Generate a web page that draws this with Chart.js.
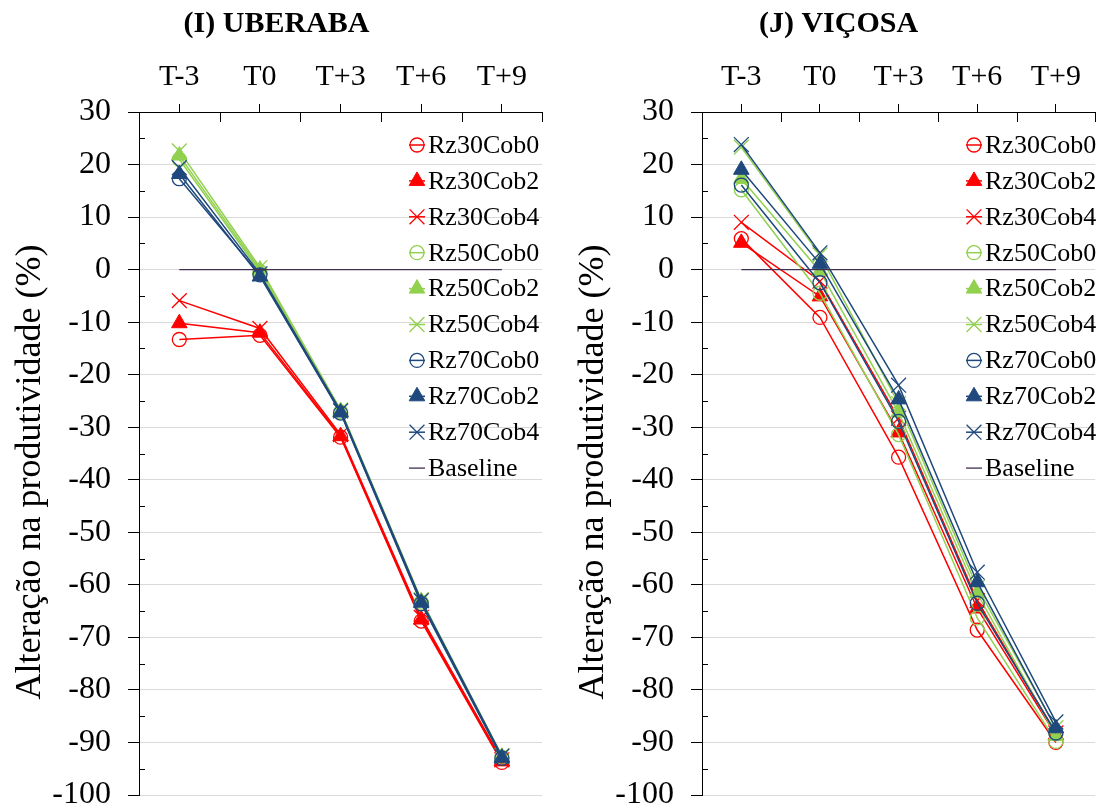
<!DOCTYPE html>
<html>
<head>
<meta charset="utf-8">
<script src="https://cdn.jsdelivr.net/npm/chart.js@4.4.1/dist/chart.umd.min.js"></script>
<style>
  html, body { margin: 0; padding: 0; background: #fff; }
  #wrap { position: relative; width: 1107px; height: 809px; overflow: hidden; }
  .panel { position: absolute; top: 0; height: 809px; }
  #pI { left: 0; width: 554px; }
  #pJ { left: 573px; width: 534px; }
</style>
</head>
<body>
<div id="wrap">
  <div class="panel" id="pI"><canvas id="cI" width="554" height="809"></canvas></div>
  <div class="panel" id="pJ"><canvas id="cJ" width="534" height="809"></canvas></div>
</div>
<script>
// Periods (top category axis) and value axis range
const periods = ['T-3', 'T0', 'T+3', 'T+6', 'T+9'];
const yMin = -100;
const yMax = 30;
const yStep = 10;
const yAxisTitle = 'Alteração na produtividade (%)';

const seriesNames = ['Rz30Cob0', 'Rz30Cob2', 'Rz30Cob4',
                     'Rz50Cob0', 'Rz50Cob2', 'Rz50Cob4',
                     'Rz70Cob0', 'Rz70Cob2', 'Rz70Cob4'];
const baseline = [0, 0, 0, 0, 0];

// (I) Uberaba – yield change (%)
const ube_Rz30Cob0 = [-13.3, -12.5, -31.9, -66.9, -93.8];
const ube_Rz30Cob2 = [-10.2, -12.0, -31.7, -66.6, -93.6];
const ube_Rz30Cob4 = [-5.9, -11.2, -31.4, -66.2, -93.3];
const ube_Rz50Cob0 = [21.0, -0.4, -27.1, -63.3, -92.8];
const ube_Rz50Cob2 = [21.7, 0.0, -26.9, -63.1, -92.7];
const ube_Rz50Cob4 = [22.6, 0.4, -26.7, -62.8, -92.5];
const ube_Rz70Cob0 = [17.3, -1.0, -27.3, -63.6, -93.0];
const ube_Rz70Cob2 = [18.2, -1.3, -27.2, -63.4, -92.9];
const ube_Rz70Cob4 = [19.4, -0.8, -26.9, -63.0, -92.6];

// (J) Viçosa – yield change (%)
const vic_Rz30Cob0 = [5.9, -9.1, -35.7, -68.6, -90.0];
const vic_Rz30Cob2 = [5.1, -5.1, -31.0, -64.5, -88.6];
const vic_Rz30Cob4 = [9.0, -2.2, -28.3, -63.0, -88.2];
const vic_Rz50Cob0 = [15.2, -4.5, -31.4, -66.3, -89.8];
const vic_Rz50Cob2 = [17.3, -0.3, -27.2, -61.6, -88.8];
const vic_Rz50Cob4 = [23.3, 2.8, -25.5, -60.5, -87.2];
const vic_Rz70Cob0 = [16.1, -2.5, -28.9, -63.5, -88.2];
const vic_Rz70Cob2 = [19.0, 1.1, -24.7, -59.5, -87.3];
const vic_Rz70Cob4 = [23.8, 3.2, -22.0, -57.6, -86.1];

const uberaba = [ube_Rz30Cob0, ube_Rz30Cob2, ube_Rz30Cob4, ube_Rz50Cob0, ube_Rz50Cob2,
                 ube_Rz50Cob4, ube_Rz70Cob0, ube_Rz70Cob2, ube_Rz70Cob4];
const vicosa = [vic_Rz30Cob0, vic_Rz30Cob2, vic_Rz30Cob4, vic_Rz50Cob0, vic_Rz50Cob2,
                vic_Rz50Cob4, vic_Rz70Cob0, vic_Rz70Cob2, vic_Rz70Cob4];

const FONT = '"Liberation Serif", "Times New Roman", Times, serif';
const rootColors = ['#ff0000', '#92d050', '#1f497d'];   // Rz30, Rz50, Rz70
const markerKinds = ['circle', 'triangle', 'crossRot']; // Cob0, Cob2, Cob4
const markerRadius = { circle: 7, triangle: 9, crossRot: 10.5 };
const baselineColor = '#403152';

function buildDatasets(values) {
  const sets = values.map((data, i) => {
    const color = rootColors[Math.floor(i / 3)];
    const kind = markerKinds[i % 3];
    return {
      label: seriesNames[i],
      data: data,
      borderColor: color,
      backgroundColor: color,
      borderWidth: 1.5,
      tension: 0,
      pointStyle: kind,
      pointRadius: markerRadius[kind],
      pointHoverRadius: markerRadius[kind],
      pointBorderColor: color,
      pointBackgroundColor: kind === 'circle' ? 'rgba(255,255,255,0)' : color,
      pointBorderWidth: kind === 'triangle' ? 1 : 1.3,
      order: 20 - i
    };
  });
  sets.push({
    label: 'Baseline',
    data: baseline,
    borderColor: baselineColor,
    backgroundColor: baselineColor,
    borderWidth: 1.3,
    pointRadius: 0,
    pointHoverRadius: 0,
    order: 0
  });
  return sets;
}

// Draws one legend key (short line plus marker) like an Excel legend entry
function drawKey(ctx, ds, cx, cy) {
  ctx.save();
  ctx.strokeStyle = ds.borderColor;
  ctx.lineWidth = ds.borderWidth;
  ctx.beginPath();
  ctx.moveTo(cx - 8, cy);
  ctx.lineTo(cx + 8, cy);
  ctx.stroke();
  const kind = ds.pointStyle;
  const r = ds.pointRadius || 0;
  if (r > 0) {
    ctx.lineWidth = ds.pointBorderWidth;
    ctx.fillStyle = ds.pointBackgroundColor;
    ctx.beginPath();
    if (kind === 'circle') {
      ctx.arc(cx, cy, r, 0, Math.PI * 2);
      ctx.fill();
      ctx.stroke();
    } else if (kind === 'triangle') {
      let a = 0;
      ctx.moveTo(cx + Math.sin(a) * r, cy - Math.cos(a) * r);
      a += Math.PI * 2 / 3;
      ctx.lineTo(cx + Math.sin(a) * r, cy - Math.cos(a) * r);
      a += Math.PI * 2 / 3;
      ctx.lineTo(cx + Math.sin(a) * r, cy - Math.cos(a) * r);
      ctx.closePath();
      ctx.fill();
      ctx.stroke();
    } else {
      const o = r * Math.SQRT1_2;
      ctx.moveTo(cx - o, cy - o); ctx.lineTo(cx + o, cy + o);
      ctx.moveTo(cx - o, cy + o); ctx.lineTo(cx + o, cy - o);
      ctx.stroke();
    }
  }
  ctx.restore();
}

// Axis extras: inner minor ticks, category-boundary ticks, rotated y title, in-plot legend
const chartExtras = {
  id: 'chartExtras',
  afterDraw(chart, args, opts) {
    const ctx = chart.ctx;
    const area = chart.chartArea;
    const xs = chart.scales.x;
    const ys = chart.scales.y;
    ctx.save();
    ctx.strokeStyle = '#000';
    ctx.lineWidth = 1;
    // minor ticks on the value axis, pointing into the plot
    ctx.beginPath();
    for (let v = yMin + yStep / 2; v < yMax; v += yStep) {
      const y = Math.round(ys.getPixelForValue(v)) + 0.5;
      ctx.moveTo(area.left, y);
      ctx.lineTo(area.left + 6, y);
    }
    // category boundary ticks below the top axis
    const n = periods.length;
    for (let i = 1; i <= n; i++) {
      const x = i < n ? (xs.getPixelForValue(i - 1) + xs.getPixelForValue(i)) / 2 : area.right;
      const px = Math.round(x) + 0.5;
      ctx.moveTo(px, area.top);
      ctx.lineTo(px, area.top + 10);
    }
    ctx.stroke();

    // value-axis title
    ctx.fillStyle = '#000';
    ctx.font = '36px ' + FONT;
    ctx.textAlign = 'center';
    ctx.textBaseline = 'middle';
    ctx.translate(area.left - 108, opts.titleY);
    ctx.rotate(-Math.PI / 2);
    ctx.fillText(yAxisTitle, 0, 0);
    ctx.restore();

    // legend inside the plot
    ctx.save();
    ctx.font = '26px ' + FONT;
    ctx.fillStyle = '#000';
    ctx.textAlign = 'left';
    ctx.textBaseline = 'middle';
    chart.data.datasets.forEach((ds, i) => {
      const cy = opts.legendTop + i * opts.legendStep;
      drawKey(ctx, ds, opts.legendX, cy);
      ctx.fillText(ds.label, opts.legendX + 11, cy + 1);
    });
    ctx.restore();
  }
};

function makeChart(canvasId, title, values, yWidth, padRight, legendX) {
  const titleSize = 30;
  const titlePad = { top: 6, bottom: 6 };
  const titleBlock = titleSize * 1.2 + titlePad.top + titlePad.bottom;
  const plotTop = 112;
  return new Chart(document.getElementById(canvasId), {
    type: 'line',
    data: { labels: periods, datasets: buildDatasets(values) },
    options: {
      responsive: false,
      animation: false,
      devicePixelRatio: 1,
      layout: { padding: { left: 0, right: padRight, top: 0, bottom: 14 } },
      plugins: {
        legend: { display: false },
        tooltip: { enabled: false },
        title: {
          display: true,
          text: title,
          color: '#000',
          font: { family: FONT, size: titleSize, weight: 'bold', lineHeight: 1.2 },
          padding: titlePad
        },
        chartExtras: { titleY: 472, legendX: legendX, legendTop: 145, legendStep: 35.9 }
      },
      scales: {
        x: {
          type: 'category',
          position: 'top',
          offset: true,
          grid: { offset: false, drawOnChartArea: false, color: '#000', tickColor: '#000', tickLength: 8, lineWidth: 1 },
          border: { display: true, color: '#000', width: 1 },
          ticks: {
            color: '#000',
            font: { family: FONT, size: 30, lineHeight: 1.0 },
            padding: 12,
            maxRotation: 0,
            autoSkip: false
          },
          afterFit(scale) {
            scale.height = plotTop - titleBlock;
            scale.paddingLeft = 0;
            scale.paddingRight = 0;
          }
        },
        y: {
          min: yMin,
          max: yMax,
          ticks: {
            stepSize: yStep,
            color: '#000',
            font: { family: FONT, size: 32, lineHeight: 0.8 },
            padding: 17
          },
          grid: { color: '#d9d9d9', tickColor: '#000', tickLength: 11, lineWidth: 1 },
          border: { display: true, color: '#000', width: 1 },
          afterFit(scale) {
            scale.width = yWidth;
            scale.paddingTop = 0;
            scale.paddingBottom = 0;
          }
        }
      }
    },
    plugins: [chartExtras]
  });
}

makeChart('cI', '(I) UBERABA', uberaba, 139, 1, 417);
makeChart('cJ', '(J) VIÇOSA', vicosa, 129, 3, 401);
</script>
</body>
</html>
